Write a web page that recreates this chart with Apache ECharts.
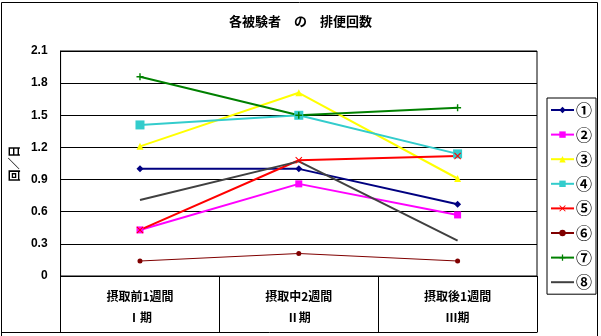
<!DOCTYPE html>
<html><head><meta charset="utf-8">
<script src="https://cdn.jsdelivr.net/npm/echarts@6/dist/echarts.min.js"></script>
<style>html,body{margin:0;padding:0;background:#fff}#c{width:601px;height:336px}</style>
</head><body><div id="c"></div>
<script>
const categories = ['摂取前1週間\nⅠ期', '摂取中2週間\nⅡ期', '摂取後1週間\nⅢ期'];
const seriesNames = ['①', '②', '③', '④', '⑤', '⑥', '⑦', '⑧'];
const s1 = [1.00, 1.00, 0.67];
const s2 = [0.43, 0.86, 0.57];
const s3 = [1.21, 1.71, 0.91];
const s4 = [1.41, 1.50, 1.14];
const s5 = [0.43, 1.08, 1.12];
const s6 = [0.14, 0.21, 0.14];
const s7 = [1.86, 1.50, 1.57];
const s8 = [0.71, 1.07, 0.33];
const yTicks = [0, 0.3, 0.6, 0.9, 1.2, 1.5, 1.8, 2.1];

const XMARK = 'path://M0,1L1,0L5,4L9,0L10,1L6,5L10,9L9,10L5,6L1,10L0,9L4,5Z';
const PLUS = 'path://M4,0H6V4H10V6H6V10H4V6H0V4H4Z';
const styles = [
  {c:'#000080', sym:'diamond', size:7, w:2},
  {c:'#FF00FF', sym:'rect', size:7, w:2},
  {c:'#FFFF00', sym:'triangle', size:7, w:2},
  {c:'#33CCCC', sym:'rect', size:9, w:2},
  {c:'#FF0000', sym:XMARK, size:7, w:2},
  {c:'#800000', sym:'circle', size:5, w:1},
  {c:'#008000', sym:PLUS, size:7, w:2},
  {c:'#404040', sym:'none', size:0, w:2}
];
const data = [s1, s2, s3, s4, s5, s6, s7, s8];

const chart = echarts.init(document.getElementById('c'), null, {renderer:'canvas'});
chart.setOption({
  backgroundColor: '#fff',
  animation: false,
  title: {
    text: '各被験者　の　排便回数', left: 'center', top: 10,
    textStyle: {fontFamily: 'Noto Sans CJK JP', fontSize: 13, fontWeight: 'bold', color: '#000'}
  },
  legend: {
    orient: 'vertical', left: 547, top: 98,
    padding: [4, 4, 4, 3], itemGap: 8.6, itemWidth: 23, itemHeight: 8,
    borderColor: '#000', borderWidth: 1,
    textStyle: {fontFamily: 'Noto Sans CJK JP', fontSize: 16, fontWeight: 'bold', color: '#000', lineHeight: 8, padding: [0,0,0,-3]},
    data: seriesNames.map((n, i) => i === 7 ? {name: n, itemStyle: {opacity: 0}} : n)
  },
  grid: {left: 58, right: 64, top: 51, bottom: 60, show: true, borderColor: '#000', borderWidth: 1},
  xAxis: {
    type: 'category', data: categories, boundaryGap: true,
    axisLine: {lineStyle: {color: '#000', width: 1}},
    axisTick: {show: true, interval: 0, length: 56, lineStyle: {color: '#000'}},
    axisLabel: {interval: 0, margin: 10, lineHeight: 21, fontFamily: 'Noto Sans CJK JP', fontSize: 12, fontWeight: 'bold', color: '#000'}
  },
  yAxis: {
    type: 'value', min: 0, max: 2.1, interval: 0.3,
    name: '回／日', nameLocation: 'middle', nameRotate: 90, nameGap: 37,
    nameTextStyle: {fontFamily: 'Noto Sans CJK JP', fontSize: 12, fontWeight: 'bold', color: '#000'},
    axisLine: {show: true, lineStyle: {color: '#000'}},
    axisTick: {show: false},
    splitLine: {lineStyle: {color: '#000', width: 1}},
    axisLabel: {
      margin: 13, fontFamily: 'Liberation Sans', fontSize: 12, fontWeight: 'bold', color: '#000',
      formatter: v => (Math.abs(v) < 1e-9 ? '0' : v.toFixed(1))
    }
  },
  graphic: [
    {type: 'rect', shape: {x: 1.5, y: 2.5, width: 596, height: 340}, style: {fill: 'none', stroke: '#000', lineWidth: 1}, silent: true},
    {type: 'line', shape: {x1: 1, y1: 332.5, x2: 537.5, y2: 332.5}, style: {stroke: '#000', lineWidth: 1}, silent: true}
  ],
  series: data.map((d, i) => ({
    name: seriesNames[i], type: 'line', data: d,
    symbol: styles[i].sym, symbolSize: styles[i].size, showSymbol: styles[i].sym !== 'none',
    lineStyle: {color: styles[i].c, width: styles[i].w},
    itemStyle: {color: styles[i].c, borderWidth: 0},
    emphasis: {disabled: true}
  }))
});
</script></body></html>
